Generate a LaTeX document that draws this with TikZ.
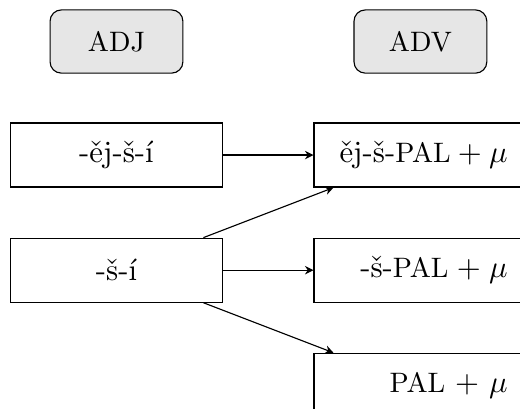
\documentclass[tikz,border=0pt,11pt]{standalone}
\usepackage{amsmath}
\usepackage{xcolor}
\usepackage{tikz}
\usetikzlibrary{arrows.meta,positioning}
\definecolor{tagfill}{HTML}{E6E6E6}
\newcommand{\gloss}[1]{{\fontsize{10}{12}\selectfont #1}}

\begin{document}
\begin{tikzpicture}[
  node distance=0.625cm and 1.125cm,
  tag/.style={rectangle, rounded corners, draw=black, line width=0.4pt, fill=tagfill, minimum width=1.66cm, minimum height=0.79cm},
  form/.style={rectangle, draw=black, line width=0.4pt, minimum width=2.66cm, minimum height=0.8cm},
  rform/.style={form, inner xsep=0.24cm, text width=2.18cm, align=right},
  arrow/.style={-{Stealth[length=3pt, width=3pt]}}
]
  \useasboundingbox (0,0) rectangle (6.5,-5.1);
  \clip (0,0) rectangle (6.5,-5.1);
  \node[tag] (adj) at (1.456,-0.519) {\gloss{ADJ}};
  \node[form, below=0.61cm of adj] (ejsi) {-ěj-š-í};
  \node[form, below=of ejsi] (si) {-š-í};
  \node[rform, right=of ejsi] (ejpal) {ěj-š-\gloss{PAL}${}+\mu$};
  \node[rform, right=of si] (spal) {-š-\gloss{PAL}${}+\mu$};
  \node[rform, below=of spal] (pal) {\gloss{PAL}${}+\mu$};
  \node[tag, above=0.61cm of ejpal] (adv) {\gloss{ADV}};

  \draw[arrow] (ejsi) -- (ejpal);
  \draw[arrow] (si) -- (spal);
  \draw[arrow] ([xshift=-0.25cm]si.north east) -- ([xshift=0.25cm]ejpal.south west);
  \draw[arrow] ([xshift=-0.25cm]si.south east) -- ([xshift=0.25cm]pal.north west);
\end{tikzpicture}
\end{document}
